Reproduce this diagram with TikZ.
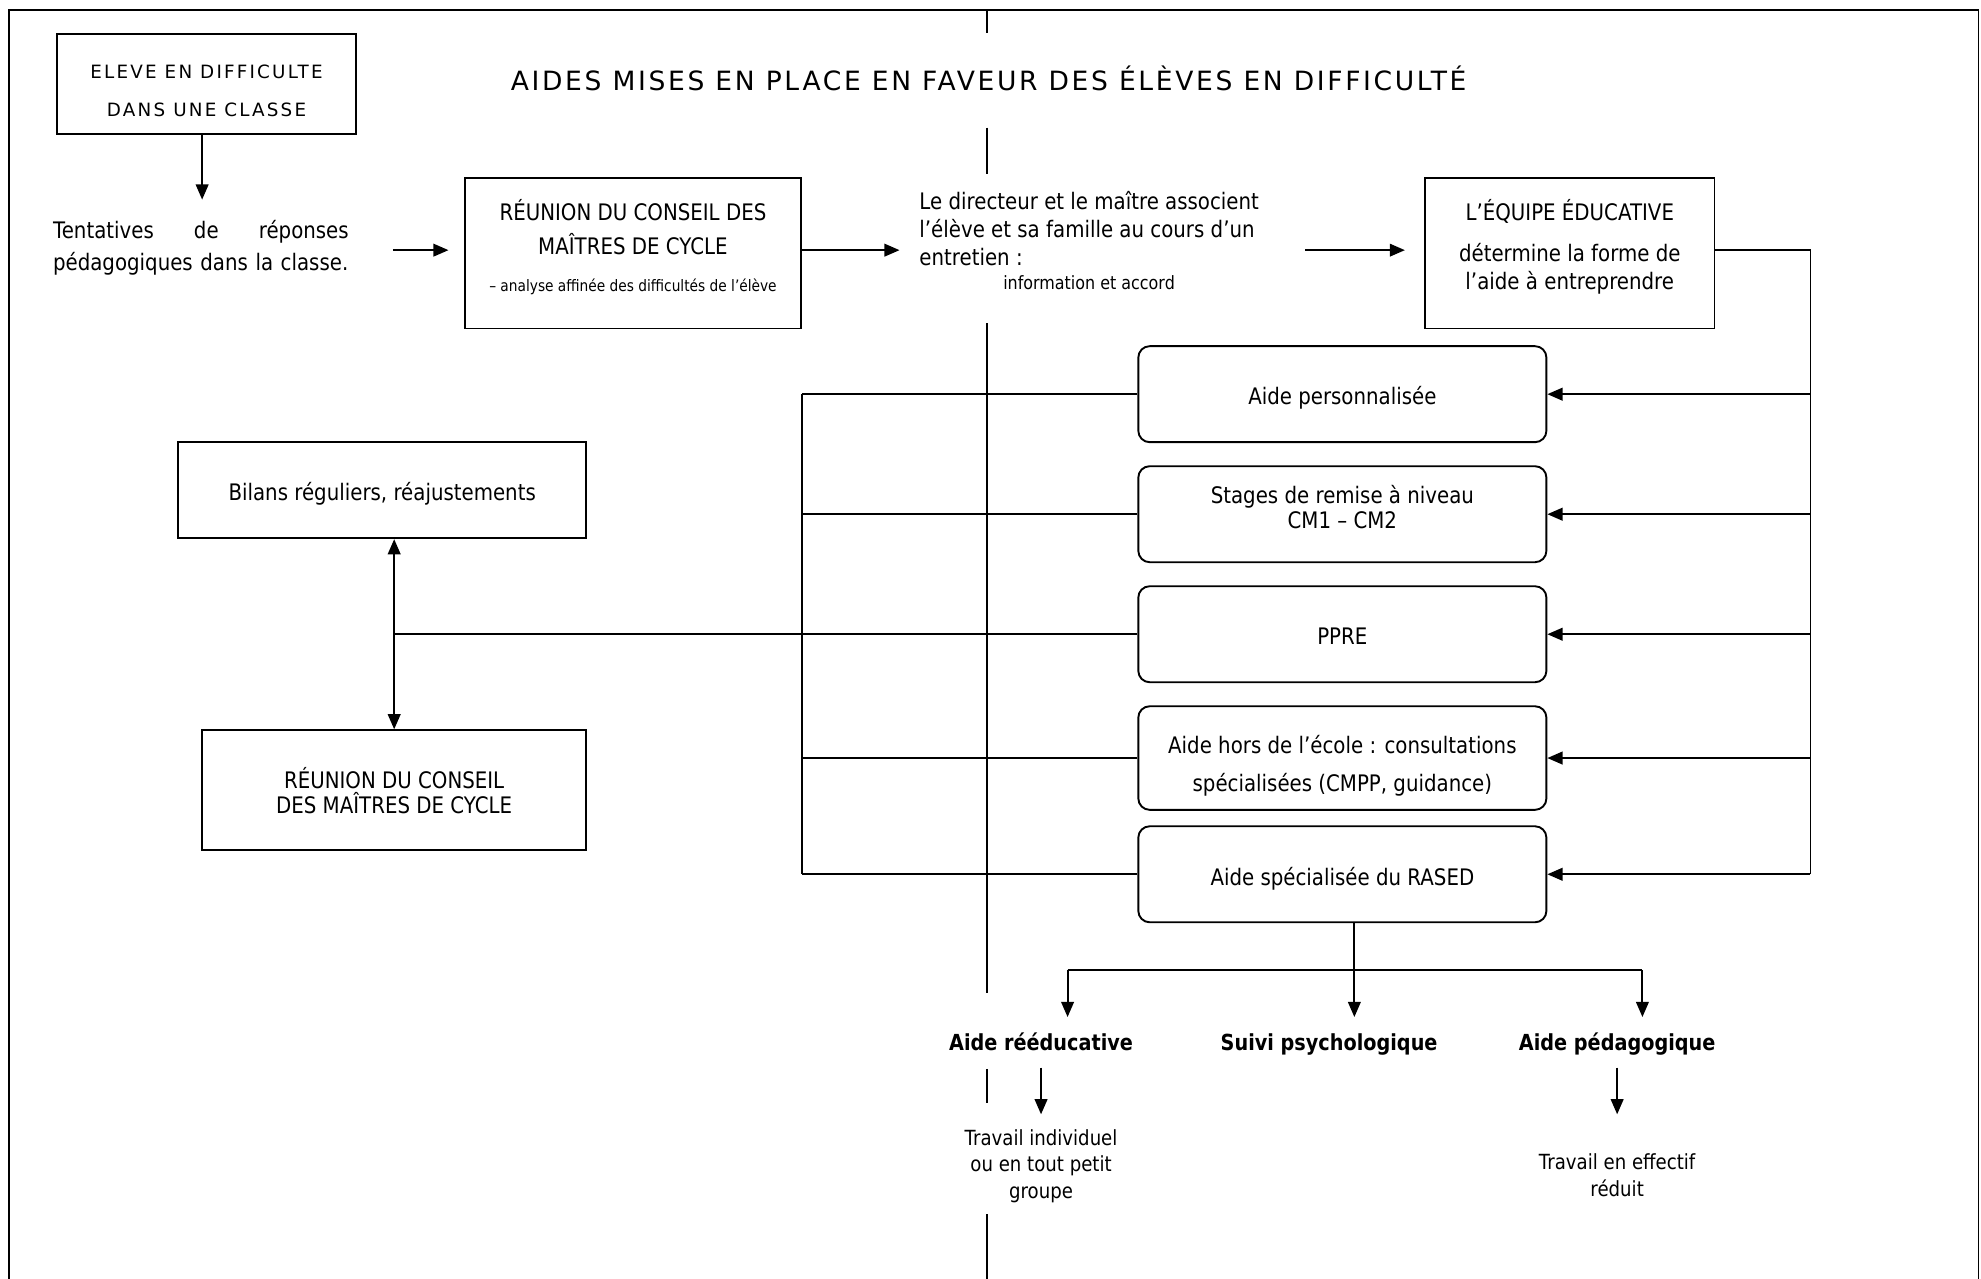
\documentclass[tikz,border=0pt]{standalone}
\usepackage{fontspec}
\setmainfont{DejaVu Sans}[FakeStretch=0.87]
\newfontfamily\titlefont{DejaVu Sans}[LetterSpace=10]
\newfontfamily\capsfont{DejaVu Sans}[LetterSpace=12]
\usetikzlibrary{arrows.meta,calc}
\begin{document}
\begin{tikzpicture}[x=1pt,y=-1pt,
  line width=1.5pt,
  arr/.style={-{Triangle[length=12pt,width=10pt]}},
  arrboth/.style={{Triangle[length=12pt,width=10pt]}-{Triangle[length=12pt,width=10pt]}},
  sq/.style={draw, rectangle, inner sep=0pt, align=center, font=\fontsize{18}{22}\selectfont},
  rnd/.style={draw, rounded corners=9pt, inner sep=0pt, align=center,
     minimum width=323pt, minimum height=76pt, font=\fontsize{18}{20}\selectfont},
  oneline/.style={text height=17pt, text depth=0pt},
  lbl/.style={inner sep=0pt, anchor=base, font=\bfseries\fontsize{17.5}{22}\selectfont},
  txt/.style={inner sep=0pt, align=center, font=\fontsize{16.5}{21}\selectfont},
  ]
\useasboundingbox (0,0) rectangle (1568,1012);
% frame
\draw (7,1012) -- (7,8) -- (1566,8) -- (1566,1012);
% central vertical line
\draw (781,8) -- (781,26);
\draw (781,101) -- (781,138);
\draw (781,256) -- (781,786);
\draw (781,846) -- (781,873);
\draw (781,961) -- (781,1012);

% title
\node[inner sep=0pt, font=\titlefont\fontsize{21}{25}\selectfont] (title) at (782.5,62)
  {AIDES MISES EN PLACE EN FAVEUR DES ÉLÈVES EN DIFFICULTÉ};

% top-left box
\node[sq, minimum width=237pt, minimum height=79pt, font=\capsfont\fontsize{14.5}{30}\selectfont]
  (eleve) at (163.5,66.5) {\rule{0pt}{21pt}ELEVE EN DIFFICULTE\\DANS UNE CLASSE};
\node[inner sep=0pt, text width=234pt, align=left, font=\fontsize{18}{25}\selectfont]
  (tent) at (159,196) {\makebox[234pt][l]{Tentatives\hfill de\hfill réponses}\\pédagogiques dans la classe.};

\node[sq, minimum width=266pt, minimum height=119pt, font=\fontsize{18}{27}\selectfont]
  (r1) at (501,200.5) {RÉUNION DU CONSEIL DES\\MAÎTRES DE CYCLE\\[2pt]{\fontsize{12.5}{15}\selectfont – analyse affinée des difficultés de l’élève\rule[-13pt]{0pt}{0pt}}};

\node[inner sep=0pt, anchor=north west, align=left, font=\fontsize{18}{22}\selectfont]
  (dir) at (727,151) {Le directeur et le maître associent\\l’élève et sa famille au cours d’un\\entretien :};
\node[inner sep=0pt, font=\fontsize{14.5}{17}\selectfont] (info) at (862,224) {information et accord};

\node[sq, minimum width=229pt, minimum height=119pt]
  (equipe) at (1242.5,200.5) {L’ÉQUIPE ÉDUCATIVE\\[11pt]détermine la forme de\\l’aide à entreprendre\rule[-14pt]{0pt}{0pt}};

% aid boxes
\node[rnd, oneline] (b1) at (1062.5,312) {Aide personnalisée};
\node[rnd] (b2) at (1062.5,407) {Stages de remise à niveau\\CM1 – CM2\rule[-11pt]{0pt}{0pt}};
\node[rnd, oneline] (b3) at (1062.5,502) {PPRE};
\node[rnd, minimum height=82pt, font=\fontsize{18}{30}\selectfont] (b4) at (1062.5,600)
  {\rule{0pt}{26pt}Aide hors de l’école : consultations\\spécialisées (CMPP, guidance)};
\node[rnd, oneline] (b5) at (1062.5,692) {Aide spécialisée du RASED};

% left boxes
\node[sq, oneline, minimum width=323pt, minimum height=76pt] (bilans) at (302.5,388) {Bilans réguliers, réajustements};
\node[sq, minimum width=304pt, minimum height=95pt, font=\fontsize{18}{20}\selectfont]
  (r2) at (312,625.5) {RÉUNION DU CONSEIL\\DES MAÎTRES DE CYCLE};

% bottom labels
\node[lbl] (l1) at (824,831.5) {Aide rééducative};
\node[lbl] (l2) at (1052,831.5) {Suivi psychologique};
\node[lbl] (l3) at (1280,831.5) {Aide pédagogique};
\node[txt] (t1) at (824,923) {Travail individuel\\ou en tout petit\\groupe};
\node[txt] (t3) at (1280,930) {Travail en effectif\\réduit};

% coordinates
\coordinate (c1) at (160,158);
\coordinate (c2a) at (311,198);
\coordinate (c2b) at (355,198);
\coordinate (c3) at (712,198);
\coordinate (c4a) at (1033,198);
\coordinate (c4b) at (1112,198);
\coordinate (busT) at (1433,198);
\coordinate (busB) at (1433,692);
\coordinate (lbT) at (635,312);
\coordinate (lbB) at (635,692);
\coordinate (sp) at (1072,768);
\coordinate (spL) at (845,768);
\coordinate (spR) at (1300,768);
\coordinate (tipY) at (1072,805);
\coordinate (d1a) at (824,845);
\coordinate (d1b) at (824,882);
\coordinate (d3a) at (1280,845);
\coordinate (d3b) at (1280,882);

% connectors
\draw[arr] (eleve.south -| c1) -- (c1);
\draw[arr] (c2a) -- (c2b);
\draw[arr] (r1.east |- c3) -- (c3);
\draw[arr] (c4a) -- (c4b);
\draw (equipe.east |- busT) -- (busT) -- (busB);
\foreach \b in {b1,b2,b3,b4,b5} {
  \draw[arr] (\b.east -| busB) -- (\b.east);
  \draw (\b.west) -- (\b.west -| lbT);
}
\draw (lbT) -- (lbB);
\draw (b3.west -| lbT) -- (b3.west -| r2.north);
\draw[arrboth] (bilans.south -| r2.north) -- (r2.north);
\draw (b5.south -| sp) -- (sp);
\draw (spL) -- (spR);
\draw[arr] (spL) -- (spL |- tipY);
\draw[arr] (sp) -- (tipY);
\draw[arr] (spR) -- (spR |- tipY);
\draw[arr] (d1a) -- (d1b);
\draw[arr] (d3a) -- (d3b);
\end{tikzpicture}
\end{document}
